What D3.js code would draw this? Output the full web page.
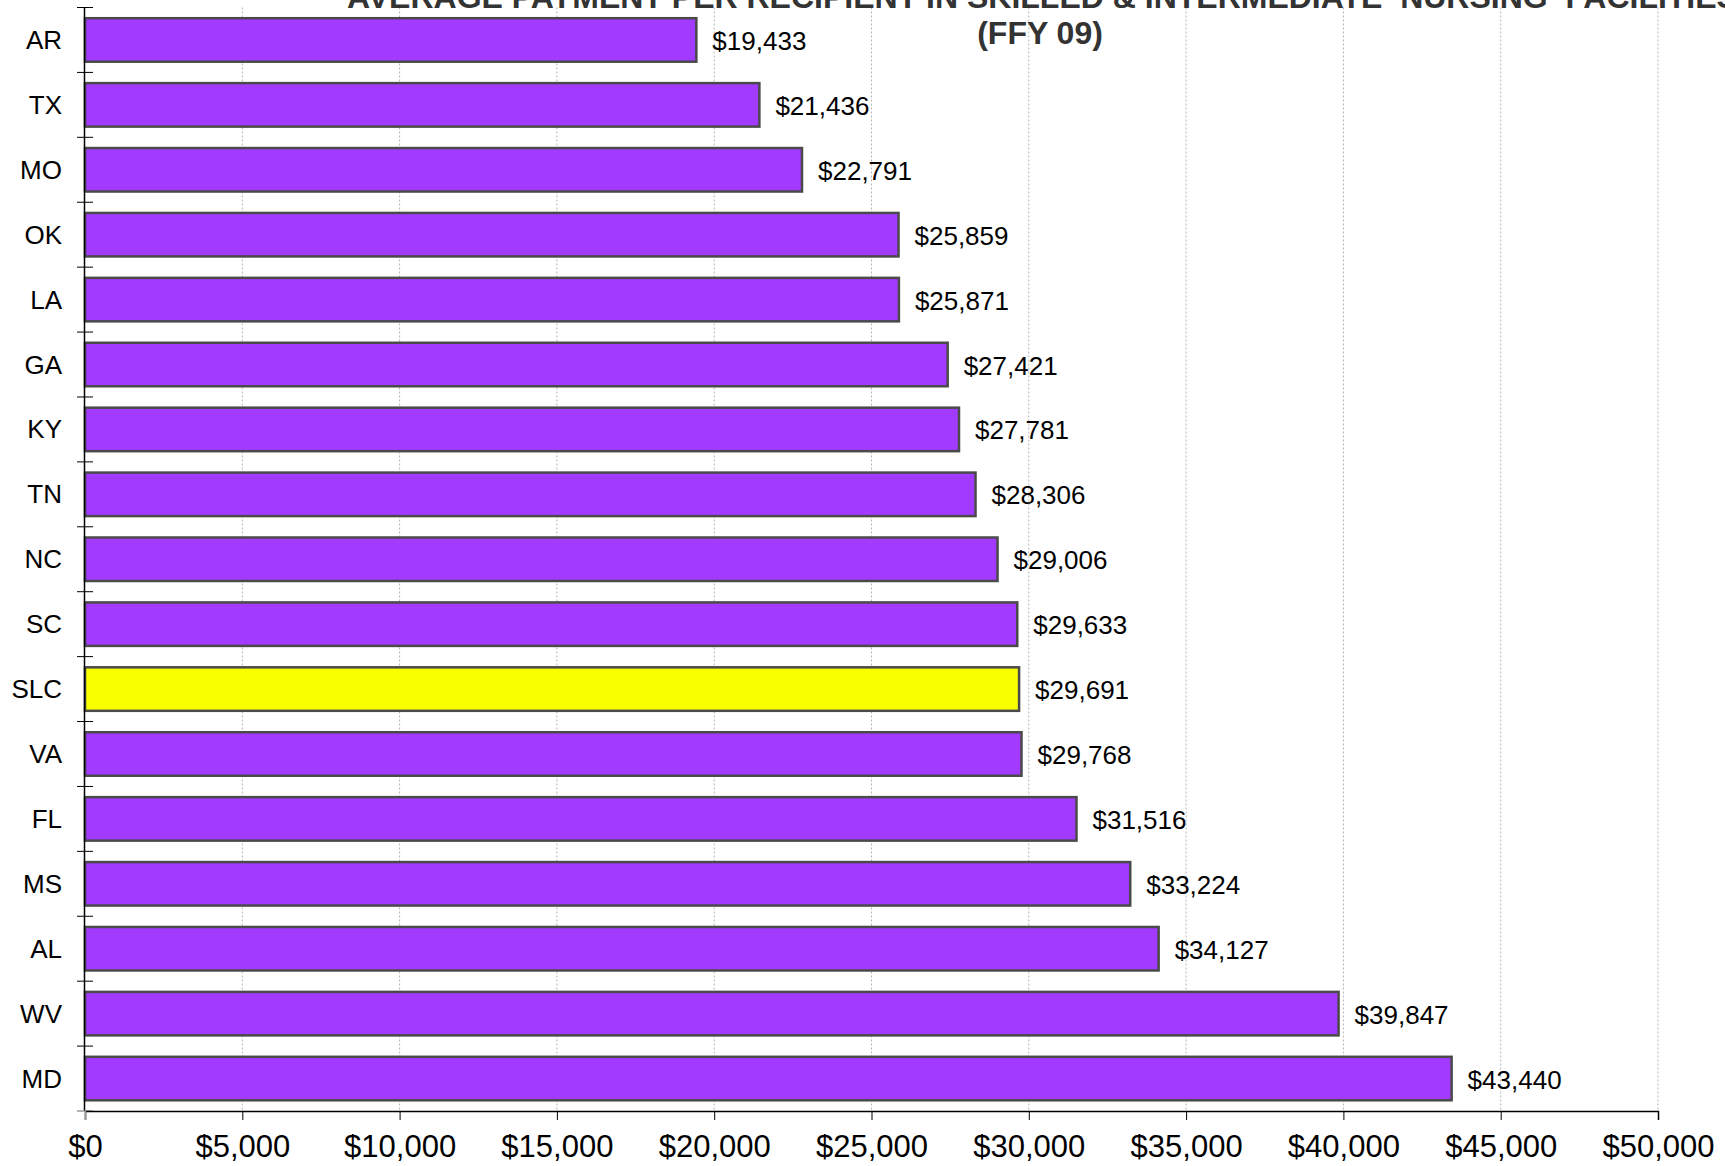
<!DOCTYPE html>
<html>
<head>
<meta charset="utf-8">
<script src="https://cdn.jsdelivr.net/npm/d3@7"></script>
<style>
  body { margin: 0; background: #fff; }
  text { font-family: "Liberation Sans", Arial, sans-serif; }
</style>
</head>
<body>
<div class="chart"></div>
<script>
// states, top to bottom
var states = ["AR", "TX", "MO", "OK", "LA", "GA", "KY", "TN", "NC", "SC", "SLC", "VA", "FL", "MS", "AL", "WV", "MD"];
// average payment per recipient (FFY 09)
var payments = [19433, 21436, 22791, 25859, 25871, 27421, 27781, 28306, 29006, 29633, 29691, 29768, 31516, 33224, 34127, 39847, 43440];
var xTicks = [0, 5000, 10000, 15000, 20000, 25000, 30000, 35000, 40000, 45000, 50000];
var titleLines = ["AVERAGE PAYMENT PER RECIPIENT IN SKILLED & INTERMEDIATE  NURSING  FACILITIES", "(FFY 09)"];
var highlight = "SLC";

var width = 1725, height = 1166;
var plotLeft = 85, plotRight = 1658, plotTop = 7.5, plotBottom = 1111;

var data = states.map(function(s, i) { return {state: s, value: payments[i]}; });

var svg = d3.select(".chart").append("svg")
	.attr("width", width)
	.attr("height", height);

var x = d3.scaleLinear().domain([0, 50000]).range([plotLeft, plotRight]);
var y = d3.scaleBand().domain(states).range([plotTop, plotBottom]).paddingInner(0.33).paddingOuter(0.165);

//grille verticale en pointillés
svg.selectAll(".grid")
	.data(xTicks.slice(1))
	.enter().append("line")
	.attr("class", "grid")
	.attr("x1", function(d) { return x(d); })
	.attr("x2", function(d) { return x(d); })
	.attr("y1", plotTop)
	.attr("y2", plotBottom)
	.attr("stroke", "#b4b4b4")
	.attr("stroke-width", 1)
	.attr("stroke-dasharray", "2,2");

//barres
svg.selectAll(".bar")
	.data(data)
	.enter().append("rect")
	.attr("class", "bar")
	.attr("x", x(0))
	.attr("y", function(d) { return y(d.state); })
	.attr("width", function(d) { return x(d.value) - x(0); })
	.attr("height", y.bandwidth())
	.attr("fill", function(d) { return d.state == highlight ? "#faff00" : "#a23aff"; })
	.attr("stroke", "#4a4a4a")
	.attr("stroke-width", 2.5);

//valeurs
svg.selectAll(".val")
	.data(data)
	.enter().append("text")
	.attr("class", "val")
	.attr("x", function(d) { return x(d.value) + 16; })
	.attr("y", function(d) { return y(d.state) + y.bandwidth() / 2 + 10; })
	.attr("font-size", "26px")
	.attr("fill", "#000")
	.text(function(d) { return "$" + d3.format(",")(d.value); });

//axe Y
var step = (plotBottom - plotTop) / states.length;
svg.append("line")
	.attr("x1", plotLeft - 0.5).attr("x2", plotLeft - 0.5)
	.attr("y1", plotTop).attr("y2", plotBottom)
	.attr("stroke", "#000").attr("stroke-width", 1.5);

svg.selectAll(".ytick")
	.data(d3.range(states.length))
	.enter().append("line")
	.attr("class", "ytick")
	.attr("x1", plotLeft - 8).attr("x2", plotLeft + 8)
	.attr("y1", function(i) { return plotTop + i * step; })
	.attr("y2", function(i) { return plotTop + i * step; })
	.attr("stroke", "#000").attr("stroke-width", 1);

svg.append("line")
	.attr("x1", plotLeft - 8).attr("x2", plotLeft + 8)
	.attr("y1", plotBottom).attr("y2", plotBottom)
	.attr("stroke", "#999").attr("stroke-width", 1.5);

svg.selectAll(".ylab")
	.data(states)
	.enter().append("text")
	.attr("class", "ylab")
	.attr("x", 62)
	.attr("y", function(d) { return y(d) + y.bandwidth() / 2 + 9; })
	.attr("text-anchor", "end")
	.attr("font-size", "26px")
	.text(function(d) { return d; });

//axe X
var xAxis = d3.axisBottom(x)
	.tickValues(xTicks)
	.tickSize(9)
	.tickFormat(function(d) { return "$" + d3.format(",")(d); });

var gx = svg.append("g")
	.attr("transform", "translate(0," + plotBottom + ")")
	.call(xAxis);
gx.select(".domain").attr("stroke", "#000").attr("stroke-width", 1.5);
gx.selectAll(".tick line").attr("stroke", "#000");
gx.selectAll(".tick line").filter(function(d) { return d == 0; }).attr("stroke", "#999").attr("stroke-width", 1.5);
gx.selectAll(".tick text")
	.attr("font-family", "\"Liberation Sans\", Arial, sans-serif")
	.attr("font-size", "31px")
	.attr("fill", "#000")
	.attr("y", 24);

//titre
svg.append("text")
	.attr("x", 347)
	.attr("y", 8)
	.attr("font-size", "32px")
	.attr("font-weight", "bold")
	.attr("fill", "#333")
	.style("white-space", "pre")
	.text(titleLines[0]);

svg.append("text")
	.attr("x", 1040)
	.attr("y", 44)
	.attr("text-anchor", "middle")
	.attr("font-size", "32px")
	.attr("font-weight", "bold")
	.attr("fill", "#333")
	.text(titleLines[1]);
</script>
</body>
</html>
